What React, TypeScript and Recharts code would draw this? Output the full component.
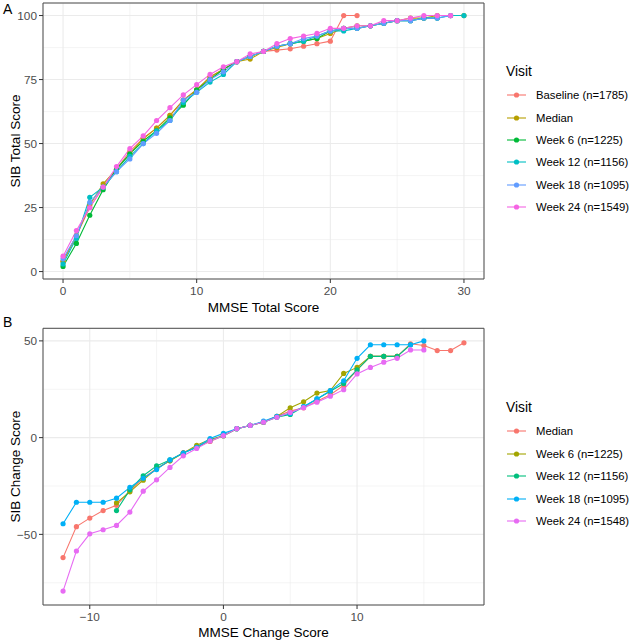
import React from 'react';
import { LineChart, Line, XAxis, YAxis, CartesianGrid, ReferenceArea, Legend } from 'recharts';

const FONT = '"Liberation Sans", Arial, Helvetica, sans-serif';

// ---------- Panel A: SIB Total Score vs MMSE Total Score ----------
const totalNames = ['Baseline (n=1785)', 'Median', 'Week 6 (n=1225)', 'Week 12 (n=1156)', 'Week 18 (n=1095)', 'Week 24 (n=1549)'];
const totalColors = ['#F8766D', '#B79F00', '#00BA38', '#00BFC4', '#619CFF', '#F564E3'];
const totalStartX = [0, 0, 0, 0, 0, 0];
const baselineTotal = [4, 14, 25, 33, 40, 47, 52, 56, 61, 67, 71, 76, 79, 82, 84, 86, 86.5, 87, 88, 89, 90, 100, 100];
const medianTotal = [4, 14, 26, 34.3, 40, 46, 52, 56, 61, 67, 71, 76, 79, 82, 83, 86, 87.5, 89, 90, 91, 93, 95, 96, 96, 97, 98, 99, 99, 100, 100, 100];
const week6Total = [2, 11, 22, 32, 40, 46, 51, 55, 60, 65, 71, 75, 79, 82, 84, 86, 88, 89, 90, 91, 94, 95, 95, 96, 97, 98, 98, 99, 99];
const week12Total = [3, 13, 29, 33, 39, 45, 50, 55, 59, 66, 70, 74, 77, 82, 84, 86, 88, 89, 90, 92, 94, 94, 95, 96, 97, 98, 98, 99, 99, 100, 100];
const week18Total = [5, 14, 27, 33, 39, 44, 50, 54, 59, 67, 70, 75, 78, 82, 84, 86, 88, 89, 91, 92, 94, 95, 95, 96, 97, 98, 98, 99, 99, 100];
const week24Total = [6, 16, 25, 33, 41, 48, 53, 59, 64, 69, 73, 77, 80, 82, 85, 86, 89, 91, 92, 93, 95, 95, 96, 96, 98, 98, 99, 100, 100, 100];
const totalValues = [baselineTotal, medianTotal, week6Total, week12Total, week18Total, week24Total];
const totalXTicks = [0, 10, 20, 30];
const totalXMinor = [5, 15, 25];
const totalYTicks = [0, 25, 50, 75, 100];
const totalYMinor = [12.5, 37.5, 62.5, 87.5];
const totalXDomain: [number, number] = [-1.5, 31.5];
const totalYDomain: [number, number] = [-2.9, 104.9];

// ---------- Panel B: SIB Change Score vs MMSE Change Score ----------
const changeNames = ['Median', 'Week 6 (n=1225)', 'Week 12 (n=1156)', 'Week 18 (n=1095)', 'Week 24 (n=1548)'];
const changeColors = ['#F8766D', '#A3A500', '#00BF7D', '#00B0F6', '#E76BF3'];
const changeStartX = [-12, -8, -8, -12, -12];
const medianChange = [-62, -46, -41.6, -37.7, -35, -27.4, -21, -16, -12, -7.7, -5, -2, 1, 4.6, 6.3, 8, 11, 13.7, 15.4, 18.8, 22.2, 27, 35, 42, 42, 42, 48.5, 47.6, 45, 45, 49];
const week6Change = [-33.7, -28, -22, -16, -12, -8, -4, -1, 1, 4.6, 6.3, 8, 11, 15.4, 18.5, 23, 24.3, 33.2, 36.3, 42, 42, 42];
const week12Change = [-37.7, -27, -19.7, -14.6, -11.5, -8, -5, -1.5, 1, 4.6, 6.3, 8, 10.5, 12, 16, 20, 24, 28, 35, 42, 42, 42, 48];
const week18Change = [-44.5, -33.4, -33.4, -33.4, -31.3, -25.7, -21, -16.5, -11.5, -8, -5, -0.5, 2.2, 4.6, 6.3, 8.5, 11, 12.5, 16, 20, 24.3, 29.4, 41, 48, 48, 48, 48, 50];
const week24Change = [-79.3, -58.6, -49.7, -47.6, -45.4, -38.5, -27.7, -21.8, -15.4, -9.4, -5.6, -1.7, 1, 4.6, 6.3, 8, 10.5, 13, 15.5, 18.3, 21.4, 24.8, 32.9, 36.3, 39, 41, 45.3, 45.3];
const changeValues = [medianChange, week6Change, week12Change, week18Change, week24Change];
const changeXTicks = [-10, 0, 10];
const changeXMinor = [-5, 5, 15];
const changeYTicks = [-50, 0, 50];
const changeYMinor = [-75, -25, 25];
const changeXDomain: [number, number] = [-13.5, 19.5];
const changeYDomain: [number, number] = [-86.5, 56.5];

type Series = { name: string; color: string; data: { x: number; y: number }[] };

const buildSeries = (names: string[], colors: string[], starts: number[], values: number[][]): Series[] =>
  names.map((name, i) => ({
    name,
    color: colors[i],
    data: values[i].map((y, j) => ({ x: starts[i] + j, y })),
  }));

const totalSeries = buildSeries(totalNames, totalColors, totalStartX, totalValues);
const changeSeries = buildSeries(changeNames, changeColors, changeStartX, changeValues);

const fmt = (v: number) => String(v).replace('-', '\u2212');

const LegendBox = ({ series }: { series: Series[] }) => (
  <div style={{ fontFamily: FONT, color: '#000' }}>
    <div style={{ fontSize: 13.8, height: 24, lineHeight: '24px', marginLeft: 6 }}>Visit</div>
    {series.map((s) => (
      <div key={s.name} style={{ display: 'flex', alignItems: 'center', height: 22.4 }}>
        <svg width={36} height={12} style={{ flex: 'none' }}>
          <line x1={7} x2={26} y1={6} y2={6} stroke={s.color} strokeWidth={1.1} />
          <circle cx={16.5} cy={6} r={2.6} fill={s.color} />
        </svg>
        <span style={{ fontSize: 11.3, whiteSpace: 'nowrap' }}>{s.name}</span>
      </div>
    ))}
  </div>
);

type PanelProps = {
  series: Series[];
  height: number;
  marginTop: number;
  xAxisHeight: number;
  xDomain: [number, number];
  yDomain: [number, number];
  xTicks: number[];
  yTicks: number[];
  xMinor: number[];
  yMinor: number[];
  xLabel: string;
  yLabel: string;
  legendTop: number;
};

const tickStyle = { fill: '#4D4D4D', fontSize: 11.8, fontFamily: FONT };

function Panel(p: PanelProps) {
  return (
    <LineChart width={630} height={p.height} margin={{ top: p.marginTop, right: 146, bottom: 0, left: 0 }}>
      <CartesianGrid stroke="#EBEBEB" strokeWidth={0.55} horizontalValues={p.yMinor} verticalValues={p.xMinor} />
      <CartesianGrid stroke="#EBEBEB" strokeWidth={1.07} />
      <XAxis
        type="number"
        dataKey="x"
        domain={p.xDomain}
        allowDataOverflow
        ticks={p.xTicks}
        tickFormatter={fmt}
        height={p.xAxisHeight}
        axisLine={false}
        tickLine={{ stroke: '#333333' }}
        tickSize={4}
        tickMargin={3.5}
        tick={tickStyle}
        label={{ value: p.xLabel, position: 'insideBottom', offset: 3, fill: '#000', fontSize: 13.5, fontFamily: FONT }}
      />
      <YAxis
        type="number"
        dataKey="y"
        domain={p.yDomain}
        allowDataOverflow
        ticks={p.yTicks}
        tickFormatter={fmt}
        width={43}
        axisLine={false}
        tickLine={{ stroke: '#333333' }}
        tickSize={4}
        tickMargin={2}
        tick={tickStyle}
        label={{
          value: p.yLabel,
          angle: -90,
          position: 'insideLeft',
          offset: 15.5,
          fill: '#000',
          fontSize: 13.5,
          fontFamily: FONT,
          style: { textAnchor: 'middle' },
        }}
      />
      {p.series.map((s) => (
        <Line
          key={s.name}
          data={s.data}
          dataKey="y"
          name={s.name}
          type="linear"
          stroke={s.color}
          strokeWidth={1.1}
          dot={{ r: 2.6, fill: s.color, stroke: s.color, strokeWidth: 0 }}
          activeDot={false}
          isAnimationActive={false}
        />
      ))}
      <ReferenceArea
        x1={p.xDomain[0]}
        x2={p.xDomain[1]}
        y1={p.yDomain[0]}
        y2={p.yDomain[1]}
        fill="none"
        fillOpacity={0}
        stroke="#4D4D4D"
        strokeWidth={1}
        ifOverflow="visible"
      />
      <Legend
        layout="vertical"
        align="center"
        verticalAlign="middle"
        wrapperStyle={{ left: 500, top: p.legendTop, width: 130 }}
        content={() => <LegendBox series={p.series} />}
      />
    </LineChart>
  );
}

export default function App() {
  return (
    <div style={{ position: 'absolute', left: 0, top: 0, width: 630, height: 640, background: '#fff', overflow: 'hidden', fontFamily: FONT }}>
      <div style={{ position: 'absolute', left: 0, top: 0 }}>
        <Panel
          series={totalSeries}
          height={315}
          marginTop={3}
          xAxisHeight={36}
          xDomain={totalXDomain}
          yDomain={totalYDomain}
          xTicks={totalXTicks}
          yTicks={totalYTicks}
          xMinor={totalXMinor}
          yMinor={totalYMinor}
          xLabel="MMSE Total Score"
          yLabel="SIB Total Score"
          legendTop={60}
        />
      </div>
      <div style={{ position: 'absolute', left: 0, top: 315 }}>
        <Panel
          series={changeSeries}
          height={325}
          marginTop={13.3}
          xAxisHeight={35}
          xDomain={changeXDomain}
          yDomain={changeYDomain}
          xTicks={changeXTicks}
          yTicks={changeYTicks}
          xMinor={changeXMinor}
          yMinor={changeYMinor}
          xLabel="MMSE Change Score"
          yLabel="SIB Change Score"
          legendTop={81.3}
        />
      </div>
      <div style={{ position: 'absolute', left: 3, top: 2, fontSize: 14, lineHeight: '14px', color: '#000' }}>A</div>
      <div style={{ position: 'absolute', left: 3, top: 315, fontSize: 14, lineHeight: '14px', color: '#000' }}>B</div>
    </div>
  );
}
